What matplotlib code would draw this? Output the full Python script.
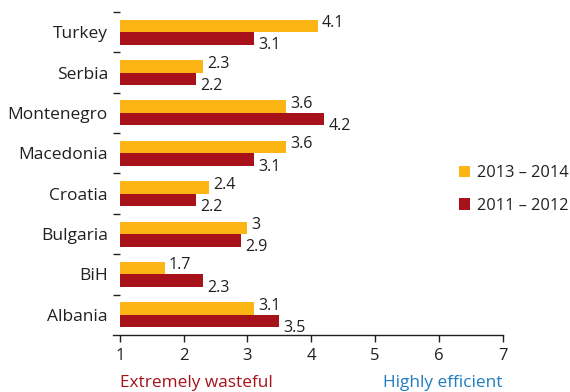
import numpy as np
import matplotlib.pyplot as plt

plt.rcParams['font.family'] = ['Open Sans', 'DejaVu Sans']

# data, bottom to top
countries = ["Albania", "BiH", "Bulgaria", "Croatia", "Macedonia", "Montenegro", "Serbia", "Turkey"]
y2013_14 = [3.1, 1.7, 3.0, 2.4, 3.6, 3.6, 2.3, 4.1]
y2011_12 = [3.5, 2.3, 2.9, 2.2, 3.1, 4.2, 2.2, 3.1]
labels_2013 = ["3.1", "1.7", "3", "2.4", "3.6", "3.6", "2.3", "4.1"]
labels_2011 = ["3.5", "2.3", "2.9", "2.2", "3.1", "4.2", "2.2", "3.1"]
series_names = ["2013 \u2013 2014", "2011 \u2013 2012"]
xticks = [1, 2, 3, 4, 5, 6, 7]

YELLOW = "#FDB515"
RED = "#A6111A"
BLUE = "#1F7DC1"
TXT = "#231F20"

fig = plt.figure(figsize=(5.7, 3.92), dpi=100)
ax = fig.add_axes([0.198, 0.1454, 0.684, 0.824])

y = np.arange(len(countries))
h = 0.31
b1 = ax.barh(y + h / 2, np.array(y2013_14) - 1, left=1, height=h, color=YELLOW, label=series_names[0])
b2 = ax.barh(y - h / 2, np.array(y2011_12) - 1, left=1, height=h, color=RED, label=series_names[1])

for i in range(len(countries)):
    ax.annotate(labels_2013[i], (y2013_14[i], y[i] + h / 2), xytext=(3, 2),
                textcoords="offset points", va="center", ha="left", fontsize=11.5, color=TXT)
    ax.annotate(labels_2011[i], (y2011_12[i], y[i] - h / 2), xytext=(3, -5),
                textcoords="offset points", va="center", ha="left", fontsize=11.5, color=TXT)

ax.set_xlim(0.89, 7)
ax.set_ylim(-0.5, len(countries) - 0.5)

for s in ["top", "right", "left"]:
    ax.spines[s].set_visible(False)
ax.spines["bottom"].set_color(TXT)
ax.spines["bottom"].set_linewidth(1.0)

ax.set_xticks(xticks)
ax.set_xticklabels([str(t) for t in xticks], fontsize=12, color=TXT)
ax.tick_params(axis="x", length=5, width=1, color=TXT, pad=4)

# category names as minor tick labels, boundary dashes as major ticks
ax.set_yticks(np.arange(len(countries)) + 0.5)
ax.set_yticklabels([])
ax.tick_params(axis="y", which="major", direction="in", length=5, width=1, color=TXT)
ax.set_yticks(y, minor=True)
ax.set_yticklabels(countries, minor=True, fontsize=12.5, color=TXT)
ax.tick_params(axis="y", which="minor", length=0, pad=3.5)

fig.text(0.21, 0.012, "Extremely wasteful", color=RED, fontsize=12.4, ha="left")
fig.text(0.882, 0.012, "Highly efficient", color=BLUE, fontsize=12.4, ha="right")

leg = fig.legend(handles=[b1, b2], loc="center left", bbox_to_anchor=(0.805, 0.517),
                 frameon=False, borderpad=0, borderaxespad=0,
                 handlelength=0.65, handleheight=0.7, handletextpad=0.45,
                 labelspacing=1.0, fontsize=11.8)
for t in leg.get_texts():
    t.set_color(TXT)

fig.savefig("out.png", dpi=100)
